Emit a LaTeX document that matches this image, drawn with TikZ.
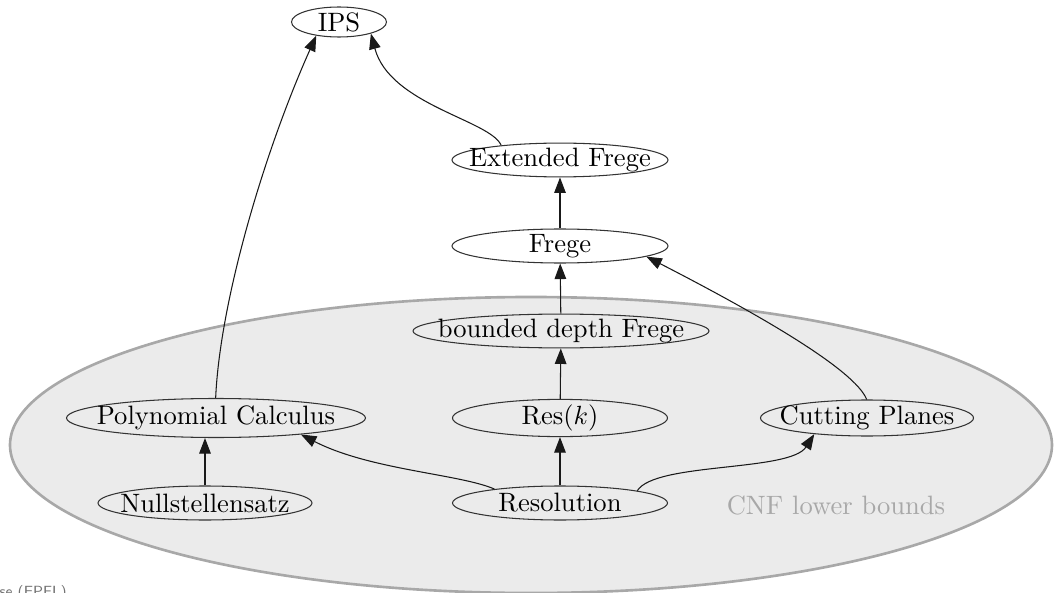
\documentclass[tikz,border=0pt]{standalone}
\usetikzlibrary{shapes.geometric,arrows.meta}
\definecolor{regionfill}{HTML}{EBEBEB}
\definecolor{regionline}{HTML}{A8A8A8}
\begin{document}
\begin{tikzpicture}[x=0.38pt,y=-0.38pt,
  sys/.style n args={2}{ellipse,draw=black!80,line width=0.4pt,inner sep=0pt,
    minimum width=#1*0.38pt,minimum height=#2*0.38pt,font=\fontsize{10.1}{12}\selectfont},
  arr/.style={-{Triangle[length=5.9pt,width=4.4pt]},line width=0.4pt,draw=black!90}]
\useasboundingbox (0,0) rectangle (1054,593);
% the CNF region
\draw[fill=regionfill,draw=regionline,line width=1pt] (531,445) ellipse [x radius=521,y radius=148];
\node[text=regionline,font=\fontsize{10.1}{12}\selectfont] (cnf) at (836,505) {CNF lower bounds};
% proof systems (label boxes have zero width so the ellipse keeps its given size)
\node[sys={95}{30}] (ips) at (339,22) {\makebox[0pt]{IPS}};
\node[sys={216}{31}] (ef) at (560,160) {\makebox[0pt]{Extended Frege}};
\node[sys={216}{34}] (frege) at (560,246) {\makebox[0pt]{Frege}};
\node[sys={296}{31}] (bdf) at (561,331) {\makebox[0pt]{bounded depth Frege}};
\node[sys={215}{36}] (resk) at (560,418) {\makebox[0pt]{Res$(k)$}};
\node[sys={299}{39}] (pc) at (216,418) {\makebox[0pt]{Polynomial Calculus}};
\node[sys={213}{36}] (cp) at (867,418) {\makebox[0pt]{Cutting Planes}};
\node[sys={214}{34}] (ns) at (205,503) {\makebox[0pt]{Nullstellensatz}};
\node[sys={215}{34}] (res) at (560,503) {\makebox[0pt]{Resolution}};
% simulations
\draw[arr] (pc.91) .. controls (220,300) and (265,150) .. (ips.211);
\draw[arr] (ef.166) .. controls (490,120) and (390,105) .. (ips.-20);
\draw[arr] (frege) -- (ef);
\draw[arr] (bdf) -- (frege);
\draw[arr] (resk) -- (bdf);
\draw[arr] (res) -- (resk);
\draw[arr] (ns) -- (pc.south -| ns);
\draw[arr] (res.168.5) .. controls (460,474) and (370,470) .. (pc.-11);
\draw[arr] (res.9.4) .. controls (655,462) and (790,472) .. (cp.197.6);
\draw[arr] (cp.91) .. controls (855,370) and (760,315) .. (frege.-7.5);
% footer
\node[anchor=base west,inner sep=0pt,text=black!55,font=\sffamily\fontsize{5.6}{6}\selectfont] (foot) at (-1,596) {se (EPFL)};
\end{tikzpicture}
\end{document}
